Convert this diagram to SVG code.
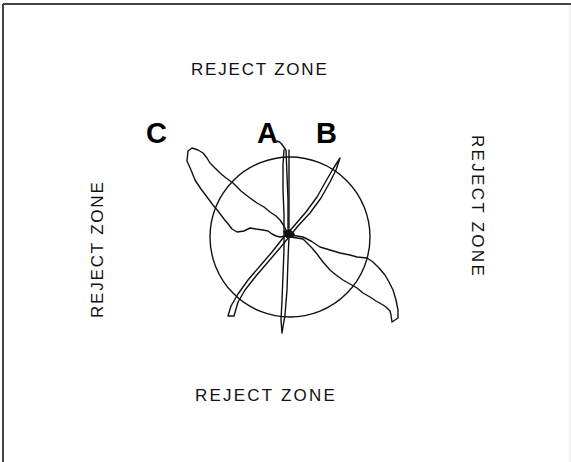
<svg xmlns="http://www.w3.org/2000/svg" width="571" height="462" viewBox="0 0 571 462">
<style>
.zone{font-family:"Liberation Sans",Arial,sans-serif;font-size:17px;fill:#111;letter-spacing:1.8px}
.lbl{font-family:"Liberation Sans",Arial,sans-serif;font-size:29px;font-weight:bold;fill:#000}
.ln{fill:none;stroke:#111;stroke-width:1.4;stroke-linejoin:round;stroke-linecap:round}
</style>
<rect width="571" height="462" fill="#fff"/>
<g id="frame">
<line x1="3" y1="4" x2="571" y2="4" stroke="#444" stroke-width="2"/>
<line x1="3" y1="4" x2="3" y2="462" stroke="#444" stroke-width="2"/>
<line x1="570" y1="5" x2="570" y2="462" stroke="#e4e4e4" stroke-width="1"/>
</g>
<g id="zone-top"><text class="zone" x="191" y="75">REJECT ZONE</text></g>
<g id="zone-bottom"><text class="zone" x="195" y="401" style="letter-spacing:2.2px">REJECT ZONE</text></g>
<g id="zone-left"><text class="zone" transform="translate(103,318) rotate(-90)">REJECT ZONE</text></g>
<g id="zone-right"><text class="zone" transform="translate(472,135) rotate(90)" style="letter-spacing:2.3px">REJECT ZONE</text></g>
<g id="label-c"><text class="lbl" x="146" y="143">C</text></g>
<g id="label-a"><text class="lbl" x="257" y="143">A</text></g>
<g id="label-b"><text class="lbl" x="316" y="143">B</text></g>
<g id="target"><circle cx="290" cy="237" r="80" class="ln"/></g>
<g id="trace-a">
<path class="ln" d="M277,141 Q281,142 283,146 L286,150 L287,175 L288,200 L288,228 L289,236 L288,260 L287,290 L285,315 L282,333 L281,320 L282,300 L283,275 L284,250 L284,237 L284,215 L283,190 L283,165 L284,150"/>
<path class="ln" d="M289,150 L289,228"/>
</g>
<g id="trace-b">
<path class="ln" d="M340,158 L336,170 L330,182 L321,198 L310,213 L298,226 L289,237 L280,248 L268,262 L256,276 L245,290 L238,302 L234,316 L228,316 L231,306 L238,294 L248,280 L260,266 L272,252 L283,238 L294,226 L306,212 L317,197 L326,181 L333,169 L340,158 Z"/>
</g>
<g id="trace-c">
<path class="ln" d="M188,151 L192,148 L198,150 L203,153 L207,158 L210,163 L215,168 L220,173 L226,178 L233,183 L241,191 L250,198 L257,203 L264,207 L270,212 L276,216 L280,220 L284,226 L287,232 L290,235 L297,236 L303,237 L311,241 L320,247 L330,250 L340,253 L350,255 L357,257 L367,258 L373,262 L379,268 L385,275 L389,282 L393,290 L396,300 L398,310 L398,318 L392,322 L391,315 L390,311 L386,307 L383,305 L376,301 L370,297 L363,293 L357,288 L350,284 L343,280 L336,275 L330,270 L323,262 L317,254 L312,248 L307,243 L303,239 L297,238 L290,237 L285,236 L280,237 L276,236 L272,234 L268,231 L263,230 L256,229 L250,228 L244,231 L237,232 L232,229 L229,225 L224,219 L218,211 L213,205 L207,197 L201,189 L195,180 L191,170 L187,161 Z"/>
<path fill="#111" d="M283,231 L290,229 L295,234 L293,238 L286,238 Z"/>
</g>
</svg>
